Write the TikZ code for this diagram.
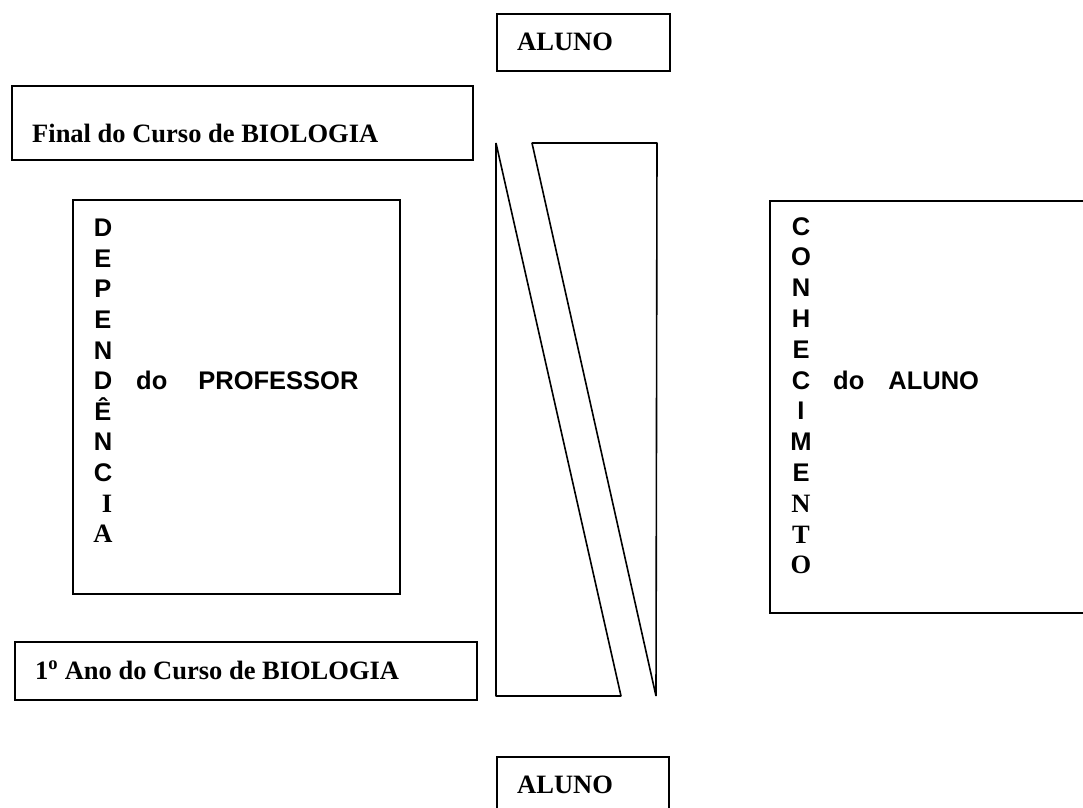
\documentclass[tikz,border=0pt]{standalone}
\usepackage{fontspec}
\newfontfamily\tnr{Liberation Serif}
\newfontfamily\ari{Liberation Sans}
\begin{document}
\begin{tikzpicture}[x=1pt,y=-1pt,
  boxline/.style={draw=black,line width=1.6pt},
  serif/.style={inner sep=0pt,font=\tnr\bfseries\fontsize{26.5}{30}\selectfont},
  sans/.style={inner sep=0pt,font=\ari\bfseries\fontsize{25.5}{30}\selectfont}]
\useasboundingbox (0,0) rectangle (1083,807);
\clip (0,0) rectangle (1083,807);
% boxes
\draw[boxline] (497,14) rectangle (670,71);
\draw[boxline] (497,757) rectangle (669,830);
\draw[boxline] (12,86) rectangle (473,160);
\draw[boxline] (73,200) rectangle (400,594);
\draw[boxline] (770,201) rectangle (1100,613);
\draw[boxline] (15,642) rectangle (477,700);
% triangles
\draw[boxline,line join=bevel] (496,143) -- (496,696) -- (621,696) -- cycle;
\draw[boxline,line join=bevel] (532,143) -- (657,143) -- (656,696) -- cycle;
% texts
\node[serif,anchor=base west] (alunoTop) at (517,50) {ALUNO};
\node[serif,anchor=base west] (alunoBot) at (517,793) {ALUNO};
\node[serif,anchor=base west] (final) at (32,142) {Final do Curso de BIOLOGIA};
\node[serif,anchor=base west] (primeiro) at (35,679) {1\textsuperscript{o} Ano do Curso de BIOLOGIA};
% DEPENDENCIA column
\foreach \l [count=\i from 0] in {D,E,P,E,N,D,Ê,N,C}
  \node[sans,anchor=base] (dep\i) at (103,236.7+30.6*\i) {\l};
\node[serif,anchor=base] (dep9) at (107,236.7+30.6*9) {I};
\node[serif,anchor=base] (dep10) at (103,236.7+30.6*10) {A};
\node[sans,anchor=base west] (doprof) at (136,389) {do\hskip 31pt PROFESSOR};
% CONHECIMENTO column
\foreach \l [count=\i from 0] in {C,O,N,H,E,C,I,M,E}
  \node[sans,anchor=base] (con\i) at (801,235+30.8*\i) {\l};
\node[serif,anchor=base] (con9) at (801,235+30.8*9) {N};
\node[serif,anchor=base] (con10) at (801,235+30.8*10) {T};
\node[serif,anchor=base] (con11) at (801,235+30.8*11) {O};
\node[sans,anchor=base west] (doaluno) at (833,389) {do\hskip 24pt ALUNO};
\end{tikzpicture}
\end{document}
